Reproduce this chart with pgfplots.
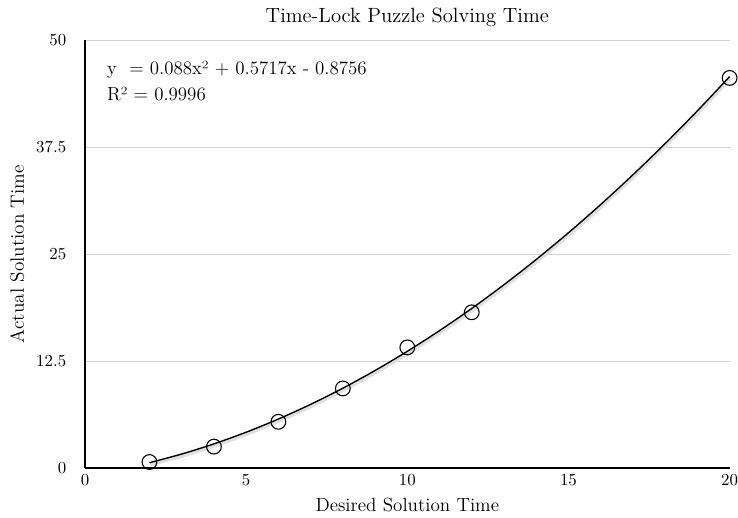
\documentclass[border=0pt]{standalone}
\usepackage{pgfplots}
\pgfplotsset{compat=1.18}

\begin{document}
\begin{tikzpicture}
\useasboundingbox (-55.25pt,-32.5pt) rectangle (424.45pt,304.2pt);
\begin{axis}[
    scale only axis,
    width=419pt, height=278pt,
    xmin=0, xmax=20, ymin=0, ymax=50,
    axis x line=bottom, axis y line=left,
    axis line style={-, black, line width=0.9pt},
    xtick={0,5,10,15,20},
    ytick={0,12.5,25,37.5,50},
    major tick length=0pt,
    ymajorgrids,
    grid style={gray!35, line width=0.6pt},
    tick label style={font=\fontsize{11.3}{13}\selectfont},
    xticklabel style={yshift=-0.5pt},
    yticklabel style={xshift=-8.7pt},
    title={Time-Lock Puzzle Solving Time},
    every axis title/.style={at={(axis description cs:0.5,1)}, anchor=center, yshift=15pt, font=\fontsize{13.4}{16}\selectfont},
    xlabel={Desired Solution Time},
    every axis x label/.style={at={(axis description cs:0.5,0)}, anchor=center, yshift=-24pt, font=\fontsize{12.4}{14}\selectfont},
    ylabel={Actual Solution Time},
    every axis y label/.style={at={(axis description cs:0,0.5)}, rotate=90, anchor=center, yshift=44pt, font=\fontsize{12.5}{14}\selectfont},
    clip=false,
]
% data points
\addplot[only marks, mark=o, mark size=4.8pt, mark options={black, fill=white, line width=0.7pt}]
coordinates {(2,0.7) (4,2.5) (6,5.4) (8,9.3) (10,14.1) (12,18.2) (20,45.6)};
% trendline shadow
\addplot[gray!25, line width=2.2pt, smooth, yshift=-1.2pt, xshift=0.6pt, forget plot] coordinates {
  (2,0.6198) (3,1.6315) (4,2.8192) (5,4.1829) (6,5.7226) (7,7.4383) (8,9.33)
  (9,11.3977) (10,13.6414) (11,16.0611) (12,18.6568) (13,21.4285) (14,24.3762)
  (15,27.4999) (16,30.7996) (17,34.2753) (18,37.927) (19,41.7547) (20,45.7584)};
% trendline
\addplot[black, line width=0.9pt, smooth] coordinates {
  (2,0.6198) (3,1.6315) (4,2.8192) (5,4.1829) (6,5.7226) (7,7.4383) (8,9.33)
  (9,11.3977) (10,13.6414) (11,16.0611) (12,18.6568) (13,21.4285) (14,24.3762)
  (15,27.4999) (16,30.7996) (17,34.2753) (18,37.927) (19,41.7547) (20,45.7584)};
\node[anchor=base west, inner sep=0pt, font=\fontsize{12.3}{15}\selectfont] at (axis cs:0.68,46.0) {y\ \ = 0.088x² + 0.5717x - 0.8756};
\node[anchor=base west, inner sep=0pt, font=\fontsize{12.3}{15}\selectfont] at (axis cs:0.68,43.0) {R² = 0.9996};
\end{axis}
\end{tikzpicture}
\end{document}
